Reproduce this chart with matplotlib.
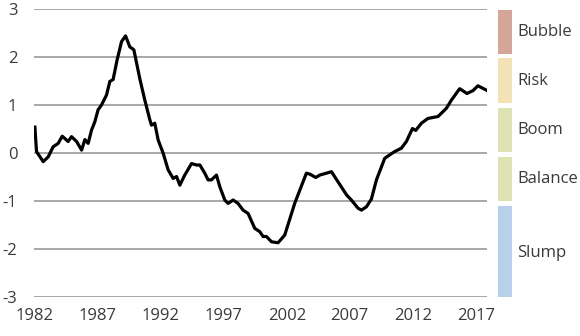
import matplotlib.pyplot as plt
import numpy as np

plt.rcParams['font.family'] = ['Open Sans', 'DejaVu Sans']
plt.rcParams['axes.unicode_minus'] = False

# indice (lectura aproximada del grafico)
years = [1982.00, 1982.13, 1982.66, 1983.06, 1983.45, 1983.85, 1984.17, 1984.64,
         1984.91, 1985.31, 1985.71, 1985.97, 1986.23, 1986.50, 1986.76, 1987.02,
         1987.29, 1987.69, 1987.95, 1988.21, 1988.53, 1988.88, 1989.20, 1989.54,
         1989.86, 1990.33, 1990.73, 1991.13, 1991.26, 1991.52, 1991.79, 1992.18,
         1992.58, 1992.98, 1993.25, 1993.51, 1993.90, 1994.44, 1994.83, 1995.10,
         1995.49, 1995.75, 1996.02, 1996.42, 1996.68, 1997.08, 1997.34, 1997.74,
         1998.13, 1998.53, 1998.93, 1999.46, 1999.86, 2000.12, 2000.39, 2000.79,
         2001.31, 2001.84, 2002.63, 2003.56, 2003.83, 2004.30, 2004.62, 2005.15,
         2005.55, 2006.07, 2006.74, 2007.13, 2007.66, 2007.93, 2008.33, 2008.72,
         2009.12, 2009.78, 2010.17, 2010.57, 2011.10, 2011.50, 2011.98, 2012.24,
         2012.69, 2013.21, 2014.01, 2014.67, 2015.07, 2015.73, 2016.31, 2016.79,
         2017.18, 2017.85]
index = [0.54, 0.03, -0.18, -0.08, 0.13, 0.20, 0.35, 0.24,
         0.34, 0.24, 0.06, 0.28, 0.20, 0.48, 0.65, 0.90,
         1.00, 1.21, 1.49, 1.53, 1.94, 2.32, 2.44, 2.21,
         2.15, 1.55, 1.10, 0.69, 0.58, 0.62, 0.27, 0.00,
         -0.35, -0.53, -0.49, -0.67, -0.46, -0.22, -0.25, -0.25,
         -0.42, -0.56, -0.56, -0.46, -0.70, -0.98, -1.05, -0.98,
         -1.05, -1.19, -1.26, -1.57, -1.64, -1.74, -1.74, -1.85,
         -1.87, -1.71, -1.05, -0.42, -0.44, -0.51, -0.46, -0.42,
         -0.39, -0.60, -0.87, -0.98, -1.15, -1.19, -1.12, -0.96,
         -0.56, -0.11, -0.04, 0.03, 0.10, 0.24, 0.51, 0.47,
         0.62, 0.72, 0.76, 0.93, 1.10, 1.34, 1.24, 1.30,
         1.40, 1.31]

xticks = [1982, 1987, 1992, 1997, 2002, 2007, 2012, 2017]
yticks = [-3, -2, -1, 0, 1, 2, 3]

# zonas de la escala
zone_names = ['Bubble', 'Risk', 'Boom', 'Balance', 'Slump']
zone_lo = [2.06, 1.04, 0.02, -0.99, -3.05]
zone_hi = [2.98, 1.98, 0.94, -0.08, -1.10]
zone_colors = ['#d4a598', '#f2e2b5', '#dde2b2', '#dde2b2', '#b9d1e8']

W, H = 580, 336
fig = plt.figure(figsize=(W / 100, H / 100), dpi=100)
bottom = 1 - 297 / H
height = (297 - 9) / H
ax = fig.add_axes([34 / W, bottom, (487 - 34) / W, height])

ax.plot(years, index, color='black', lw=2.3, solid_joinstyle='round')
ax.set_xlim(1981.93, 2017.9)
ax.set_ylim(-3, 3)
ax.set_xticks(xticks)
ax.set_yticks(yticks)
ax.yaxis.grid(True, color='#a0a0a0', lw=1.3)
ax.set_axisbelow(True)
for s in ax.spines.values():
    s.set_visible(False)
ax.tick_params(length=0, labelsize=12, colors='#3a3a3a')
ax.tick_params(axis='y', pad=12)
ax.tick_params(axis='x', pad=8)

# barra de zonas a la derecha
ax2 = fig.add_axes([498 / W, bottom, 14 / W, height], sharey=ax)
ax2.bar(0, np.array(zone_hi) - np.array(zone_lo), bottom=zone_lo, width=1,
        color=zone_colors)
ax2.set_xlim(-0.5, 0.5)
ax2.axis('off')
for name, lo, hi in zip(zone_names, zone_lo, zone_hi):
    ax2.text(0.86, (lo + hi) / 2, name, fontsize=12, color='#3a3a3a',
             va='center', ha='left')

fig.savefig('out.png', dpi=100)
